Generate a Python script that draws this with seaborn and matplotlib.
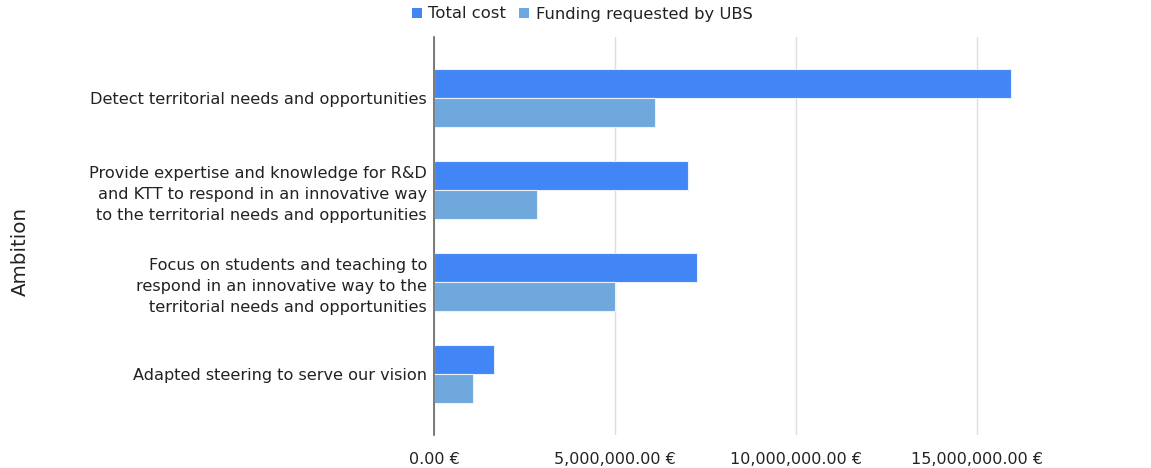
import matplotlib
matplotlib.use("Agg")
import matplotlib.pyplot as plt
import seaborn as sns
import pandas as pd
from matplotlib.ticker import FuncFormatter
from matplotlib.patches import Patch

categories = [
    "Detect territorial needs and opportunities",
    "Provide expertise and knowledge for R&D\nand KTT to respond in an innovative way\nto the territorial needs and opportunities",
    "Focus on students and teaching to\nrespond in an innovative way to the\nterritorial needs and opportunities",
    "Adapted steering to serve our vision",
]
series_names = ["Total cost", "Funding requested by UBS"]
total_cost = [15930000, 7030000, 7270000, 1650000]
funding_ubs = [6110000, 2850000, 4990000, 1070000]
colors = ["#4285F4", "#6FA8DC"]

df = pd.DataFrame({
    "Ambition": categories * 2,
    "Series": [series_names[0]] * 4 + [series_names[1]] * 4,
    "Value": total_cost + funding_ubs,
})

sns.set_theme(style="white")
plt.rcParams["font.family"] = ["DejaVu Sans"]

fig = plt.figure(figsize=(11.51, 4.68), dpi=100)
ax = fig.add_axes([434 / 1151, 1 - 435 / 468, (1147 - 434) / 1151, (435 - 37) / 468])

sns.barplot(data=df, y="Ambition", x="Value", hue="Series", order=categories,
            hue_order=series_names, palette=colors, orient="h", width=0.63,
            saturation=1, ax=ax, legend=False, edgecolor="#e8f0fe", linewidth=0.8)

ax.set_xlim(0, 19.7e6)
ax.set_ylim(3.66, -0.66)
ax.set_xticks([0, 5e6, 10e6, 15e6])
ax.xaxis.set_major_formatter(FuncFormatter(lambda v, p: f"{v:,.2f} €"))
ax.grid(axis="x", color="#dddddd", linewidth=1)
ax.set_axisbelow(True)
for s in ["top", "right", "bottom"]:
    ax.spines[s].set_visible(False)
ax.spines["left"].set_color("#666666")
ax.spines["left"].set_linewidth(1.2)
ax.tick_params(axis="x", length=0, pad=12, labelsize=11.5, labelcolor="#222222")
ax.tick_params(axis="y", length=0, pad=5, labelsize=11.6, labelcolor="#222222")
for lab in ax.get_yticklabels():
    lab.set_horizontalalignment("right")
    lab.set_multialignment("right")
    lab.set_linespacing(1.5)
ax.set_xlabel("")
ax.set_ylabel("")

fig.text(20 / 1151, 1 - 251 / 468, "Ambition", rotation=90, ha="center", va="center",
         fontsize=14.3, color="#222222")

handles = [Patch(facecolor=c, edgecolor="none") for c in colors]
fig.legend(handles, series_names, loc="center", bbox_to_anchor=(582 / 1151, 1 - 14 / 468),
           ncol=2, frameon=False, fontsize=11.8, handlelength=0.6, handleheight=0.6,
           handletextpad=0.4, columnspacing=0.8, labelcolor="#222222")

fig.savefig("out.png", dpi=100)
